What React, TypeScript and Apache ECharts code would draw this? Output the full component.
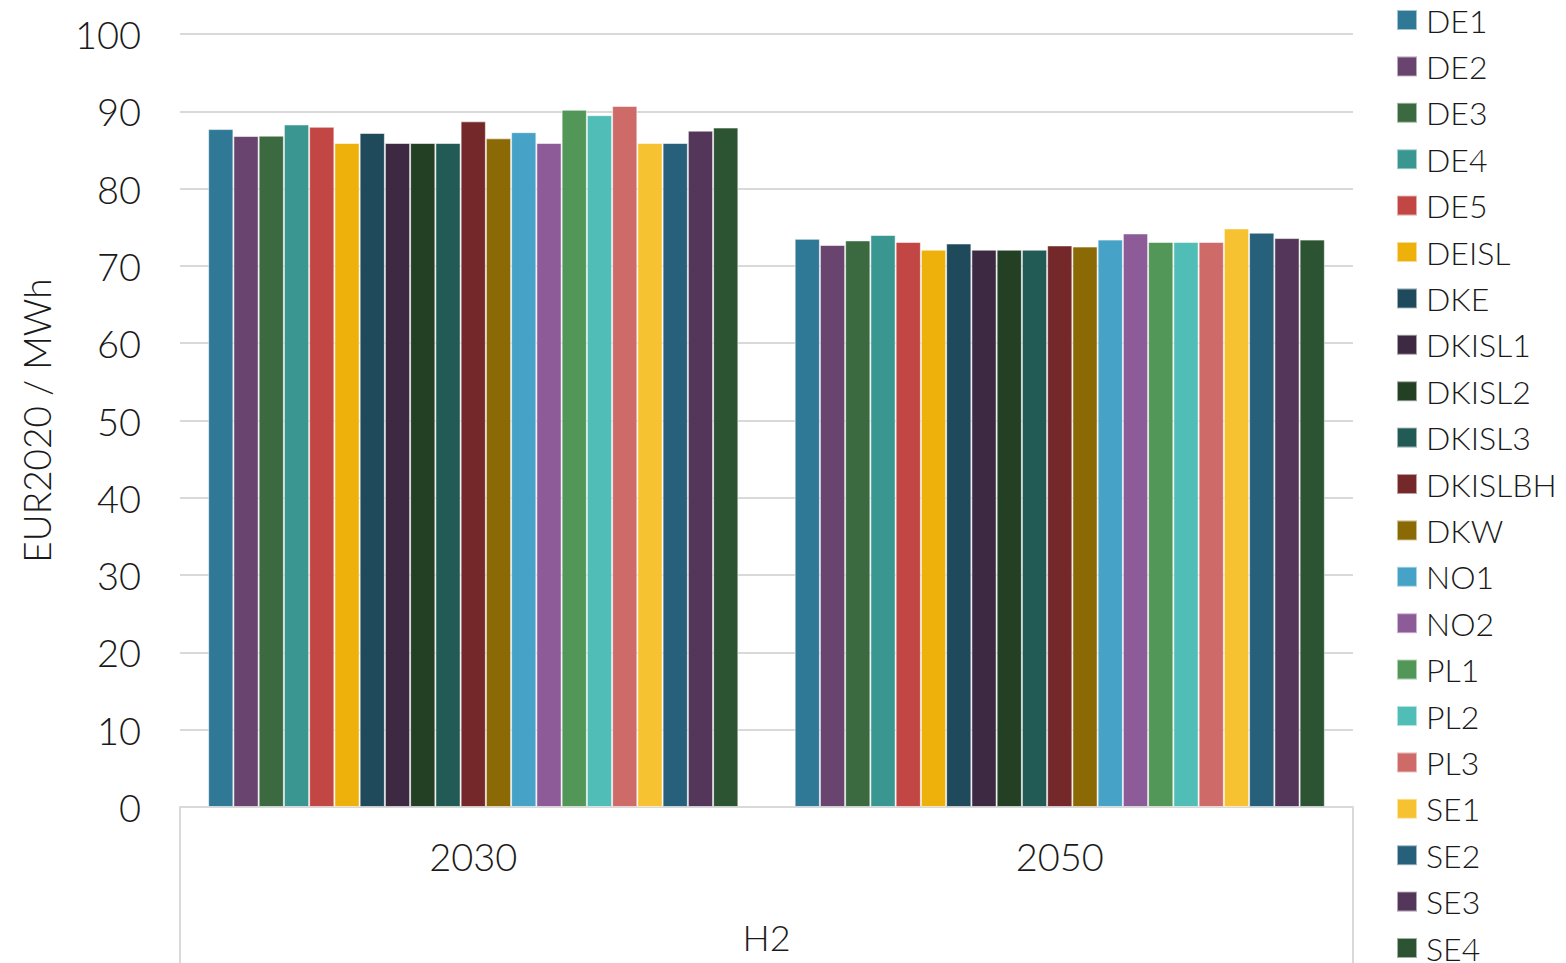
import React, { useEffect, useRef } from "react";
import * as echarts from "echarts";

const years = ["2030", "2050"];
const groupLabel = "H2";
const yTicks = [0, 10, 20, 30, 40, 50, 60, 70, 80, 90, 100];

const regions = [
  "DE1", "DE2", "DE3", "DE4", "DE5", "DEISL", "DKE", "DKISL1", "DKISL2", "DKISL3",
  "DKISLBH", "DKW", "NO1", "NO2", "PL1", "PL2", "PL3", "SE1", "SE2", "SE3", "SE4",
];

const colors = [
  "#2F7896", "#68446E", "#3C6A40", "#3A9690", "#C14644", "#EEB00B", "#1E4A5C",
  "#3D2A42", "#233F24", "#225A55", "#742829", "#8B6A05", "#46A2C6", "#8E5B99",
  "#529658", "#50BEB6", "#CE6A68", "#F6C232", "#26607A", "#53365A", "#2D5432",
];

// H2 price per region, [2030, 2050]
const price2030 = [
  87.7, 86.8, 86.85, 88.3, 88.0, 85.9, 87.2, 85.9, 85.9, 85.9,
  88.7, 86.5, 87.3, 85.9, 90.2, 89.5, 90.7, 85.9, 85.9, 87.5, 87.9,
];
const price2050 = [
  73.5, 72.7, 73.3, 74.0, 73.1, 72.1, 72.9, 72.1, 72.1, 72.1,
  72.65, 72.5, 73.4, 74.2, 73.1, 73.1, 73.1, 74.85, 74.3, 73.6, 73.4,
];

const FONT = "Lato, 'DejaVu Sans', sans-serif";

export default function App() {
  const ref = useRef<HTMLDivElement>(null);

  useEffect(() => {
    if (!ref.current) return;
    const chart = echarts.init(ref.current, undefined, { renderer: "svg" });
    chart.setOption({
      animation: false,
      backgroundColor: "#ffffff",
      textStyle: { fontFamily: FONT, color: "#1a1a1a" },
      grid: { left: 180, right: 213, top: 34, bottom: 156, outerBoundsMode: "none", containLabel: false },
      legend: {
        orient: "vertical",
        left: 1396,
        top: 4,
        height: 1200,
        padding: 0,
        itemWidth: 20,
        itemHeight: 20,
        itemGap: 14.4,
        icon: "rect",
        data: regions,
        textStyle: {
          fontFamily: FONT,
          fontSize: 32,
          fontWeight: 300,
          color: "#1a1a1a",
          lineHeight: 30,
          padding: [0, 0, 0, 4],
        },
      },
      xAxis: {
        type: "category",
        data: years,
        name: groupLabel,
        nameLocation: "middle",
        nameGap: 112,
        nameTextStyle: { fontFamily: FONT, fontSize: 36, fontWeight: 300, color: "#1a1a1a" },
        axisLine: { show: true, lineStyle: { color: "#d9d9d9", width: 2 } },
        axisTick: { show: false },
        axisLabel: {
          margin: 30,
          fontFamily: FONT,
          fontSize: 38,
          fontWeight: 300,
          color: "#1a1a1a",
        },
      },
      yAxis: {
        type: "value",
        min: yTicks[0],
        max: yTicks[yTicks.length - 1],
        interval: 10,
        name: "EUR2020 / MWh",
        nameLocation: "middle",
        nameGap: 125,
        nameRotate: 90,
        nameTextStyle: { fontFamily: FONT, fontSize: 37, fontWeight: 300, color: "#1a1a1a" },
        axisLine: { show: false },
        axisTick: { show: false },
        axisLabel: {
          margin: 39,
          fontFamily: FONT,
          fontSize: 38,
          fontWeight: 300,
          color: "#1a1a1a",
        },
        splitLine: { lineStyle: { color: "#d9d9d9", width: 2 } },
      },
      graphic: [
        { type: "line", shape: { x1: 180, y1: 807, x2: 180, y2: 963 }, style: { stroke: "#d9d9d9", lineWidth: 2 } },
        { type: "line", shape: { x1: 1353, y1: 807, x2: 1353, y2: 963 }, style: { stroke: "#d9d9d9", lineWidth: 2 } },
      ],
      series: regions.map((name, i) => ({
        name,
        type: "bar",
        data: [price2030[i], price2050[i]],
        barGap: "0%",
        barCategoryGap: "9.6%",
        itemStyle: {
          color: colors[i],
          borderColor: "rgba(255,255,255,0.55)",
          borderWidth: 1,
        },
      })),
    });
    return () => chart.dispose();
  }, []);

  return <div ref={ref} style={{ width: 1566, height: 963, position: "absolute", left: 0, top: 0 }} />;
}
